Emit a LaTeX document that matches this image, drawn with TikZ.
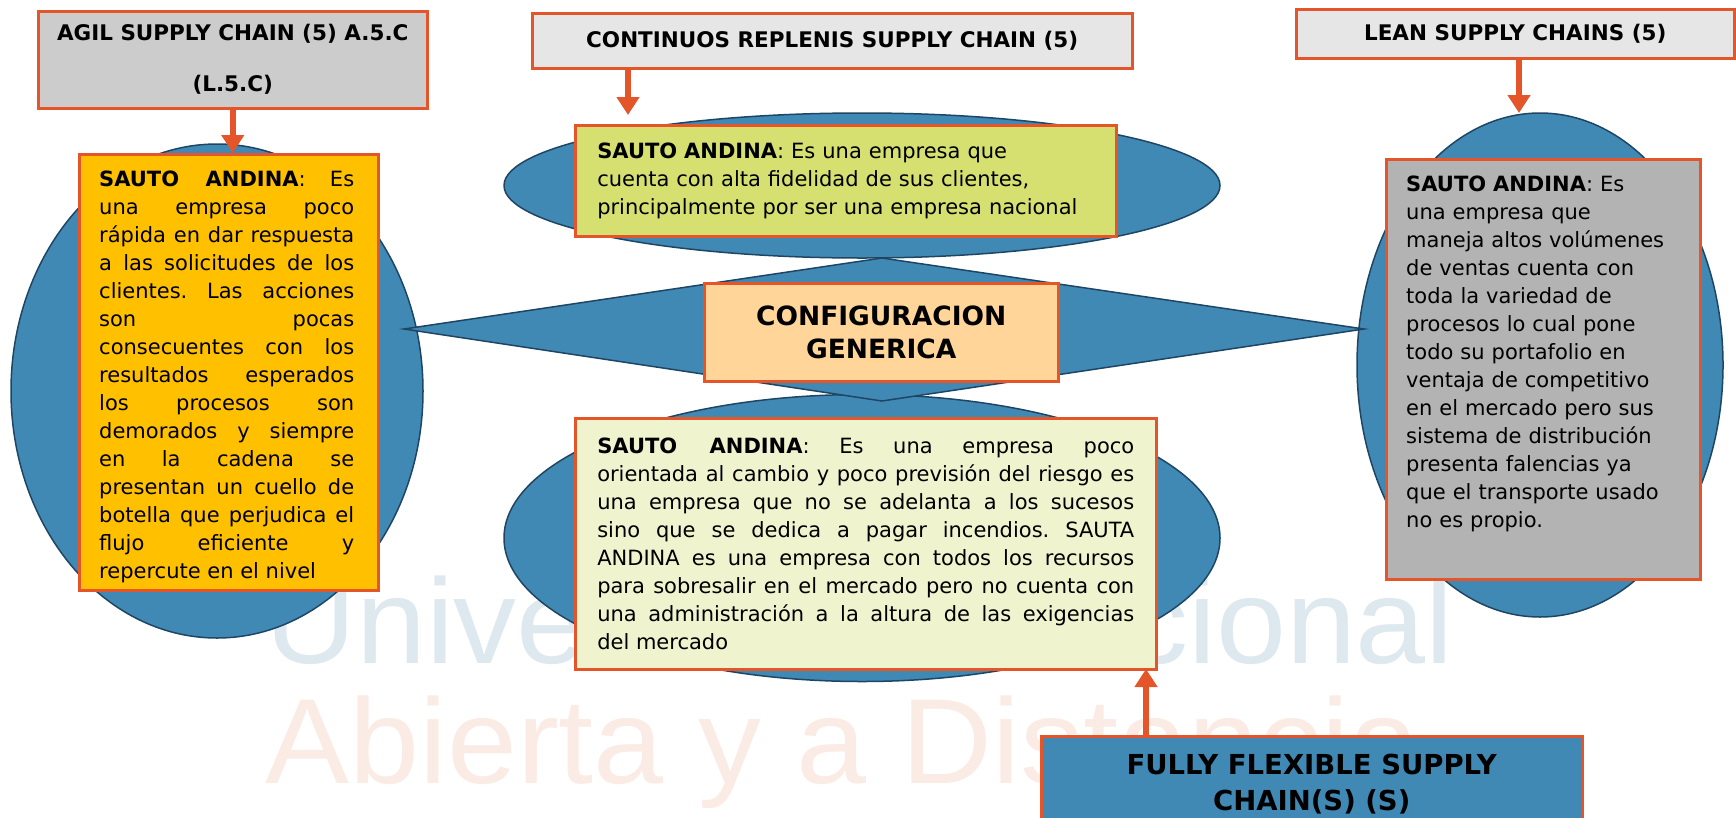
\documentclass[tikz,border=0pt]{standalone}
\usepackage{fontspec}
\setmainfont{DejaVu Sans}
\newfontfamily\wmfont[FakeStretch=1.04]{Liberation Sans}
\usetikzlibrary{shapes.geometric,arrows.meta,positioning}
\definecolor{ored}{RGB}{228,86,42}
\definecolor{eblue}{RGB}{65,137,181}
\definecolor{eline}{RGB}{30,70,100}
\definecolor{grayA}{RGB}{204,204,204}
\definecolor{grayB}{RGB}{230,230,230}
\definecolor{grayC}{RGB}{179,179,179}
\definecolor{amber}{RGB}{255,192,0}
\definecolor{lime}{RGB}{214,224,112}
\definecolor{peach}{RGB}{255,213,153}
\definecolor{cream}{RGB}{239,243,206}
\definecolor{wmblue}{RGB}{222,233,239}
\definecolor{wmpink}{RGB}{251,235,229}
\begin{document}
\begin{tikzpicture}[x=1pt, y=-1pt,
    box/.style = {draw=ored, line width=2.5pt, rectangle, inner sep=0pt, anchor=north west},
    ell/.style = {draw=eline, line width=1.5pt, fill=eblue, ellipse, inner sep=0pt},
    hdr/.style = {box, align=center, font=\bfseries\fontsize{21.5}{51}\selectfont},
    body/.style = {font=\frenchspacing\fontsize{21}{28}\selectfont},
    arr/.style = {draw=ored, line width=6pt, -{Triangle[width=22pt,length=18pt]}},
    wm/.style = {anchor=base west, inner sep=0pt, font=\wmfont\fontsize{121}{121}\selectfont}]
  \useasboundingbox (0,0) rectangle (1736,817);
  \clip (0,0) rectangle (1736,817);
  % watermark
  \node[wm, text=wmblue] (wm1) at (265,663) {Universidad Nacional};
  \node[wm, text=wmpink] (wm2) at (265,783) {Abierta y a Distancia};
  % ellipses and diamond
  \node[ell, minimum width=412pt, minimum height=494pt] (lell) at (217,391) {};
  \node[ell, minimum width=716pt, minimum height=145pt] (uell) at (862,185.5) {};
  \node[ell, minimum width=716pt, minimum height=287pt] (dell) at (862,538) {};
  \node[ell, minimum width=366pt, minimum height=504pt] (rell) at (1540,365) {};
  \coordinate (dl) at (404,329);
  \coordinate (dt) at (882,258);
  \coordinate (dr) at (1364,329);
  \coordinate (db) at (882,401);
  \draw[draw=eline, line width=1.5pt, fill=eblue] (dl) -- (dt) -- (dr) -- (db) -- cycle;
  % headers
  \node[hdr, fill=grayA, minimum width=389pt, minimum height=97pt] (agil) at (37,10) {AGIL SUPPLY CHAIN (5) A.5.C\\(L.5.C)};
  \node[hdr, fill=grayB, minimum width=600pt, minimum height=55pt] (cont) at (531,12) {CONTINUOS REPLENIS SUPPLY CHAIN (5)};
  \node[hdr, fill=grayB, minimum width=438pt, minimum height=49pt] (lean) at (1295,8) {LEAN SUPPLY CHAINS (5)};
  % text boxes
  \node[box, fill=amber, minimum width=299pt, minimum height=436pt] (agilbox) at (78,153) {};
  \begin{scope}
    \clip (agilbox.north west) rectangle (agilbox.south east);
    \node[body, anchor=north west, inner sep=0pt, text width=255pt, align=justify] (agiltxt) at (99,171)
      {\parfillskip=0pt \tolerance=10000 \hyphenpenalty=10000
       \textbf{SAUTO ANDINA}: Es\linebreak una empresa poco\linebreak
       rápida en dar respuesta\linebreak a las solicitudes de los\linebreak
       clientes. Las acciones\linebreak son pocas\linebreak
       consecuentes con los\linebreak resultados esperados\linebreak
       los procesos son\linebreak demorados y siempre\linebreak
       en la cadena se\linebreak presentan un cuello de\linebreak
       botella que perjudica el\linebreak flujo eficiente y\linebreak
       repercute en el nivel};
  \end{scope}
  \node[box, body, fill=lime, minimum width=541pt, minimum height=111pt, text width=497pt, align=left] (contbox) at (574,124)
    {\textbf{SAUTO ANDINA}: Es una empresa que\\cuenta con alta fidelidad de sus clientes,\\principalmente por ser una empresa nacional};
  \node[box, fill=peach, minimum width=354pt, minimum height=98pt, align=center,
    font=\bfseries\fontsize{26.5}{33}\selectfont] (config) at (703,282) {CONFIGURACION\\GENERICA};
  \node[box, body, fill=cream, minimum width=581pt, minimum height=251pt, text width=537pt, align=justify] (flexbox) at (574,417)
    {\tolerance=10000 \hyphenpenalty=10000
     \textbf{SAUTO ANDINA}: Es una empresa poco\linebreak
     orientada al cambio y poco previsión del riesgo es\linebreak
     una empresa que no se adelanta a los sucesos\linebreak
     sino que se dedica a pagar incendios. SAUTA\linebreak
     ANDINA es una empresa con todos los recursos\linebreak
     para sobresalir en el mercado pero no cuenta con\linebreak
     una administración a la altura de las exigencias\linebreak
     del mercado};
  \node[box, fill=grayC, minimum width=314pt, minimum height=420pt] (leanbox) at (1385,158) {};
  \node[body, anchor=north west, inner sep=0pt, text width=290pt, align=left] (leantxt) at (1406,176)
    {\textbf{SAUTO ANDINA}: Es\\una empresa que\\maneja altos volúmenes\\de ventas cuenta con\\toda la variedad de\\procesos lo cual pone\\todo su portafolio en\\ventaja de competitivo\\en el mercado pero sus\\sistema de distribución\\presenta falencias ya\\que el transporte usado\\no es propio.};
  \node[box, fill=eblue, minimum width=541pt, minimum height=95pt, align=center,
    font=\bfseries\fontsize{27.5}{36}\selectfont] (fully) at (1040,735) {FULLY FLEXIBLE SUPPLY\\CHAIN(S) (S)};
  % arrows
  \coordinate (c2) at (628,115);
  \coordinate (c3) at (1519,113);
  \coordinate (c4) at (1146,669);
  \draw[arr] (agil.south) -- (agil.south |- agilbox.north);
  \draw[arr] (cont.south -| c2) -- (c2);
  \draw[arr] (lean.south -| c3) -- (c3);
  \draw[arr] (fully.north -| c4) -- (c4);
\end{tikzpicture}
\end{document}
